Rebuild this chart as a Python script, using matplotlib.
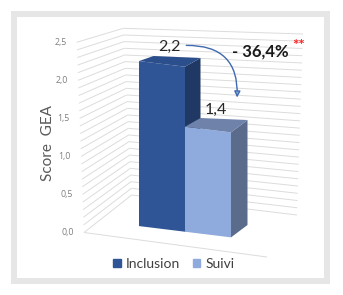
import matplotlib.pyplot as plt
import numpy as np
from matplotlib.transforms import Affine2D
from matplotlib.patches import Polygon, Patch, Rectangle, FancyArrowPatch
from matplotlib.collections import LineCollection

plt.rcParams['font.family'] = ['Lato', 'DejaVu Sans']

# data
series = ['Inclusion', 'Suivi']
values = [2.2, 1.4]
value_labels = ['2,2', '1,4']
change_label = '- 36,4%'
signif = '**'
ticks = [0.0, 0.5, 1.0, 1.5, 2.0, 2.5]
tick_labels = ['0,0', '0,5', '1,0', '1,5', '2,0', '2,5']
ylabel = 'Score  GEA'

front_col = ['#2f5597', '#8faadc']
side_col = ['#203864', '#5b6b8c']
top_col = ['#2b4e8c', '#6e82aa']

W, H = 343, 295
fig = plt.figure(figsize=(W / 100, H / 100), dpi=100)
ax = fig.add_axes([0, 0, 1, 1])
ax.set_xlim(0, W)
ax.set_ylim(H, 0)
ax.set_autoscale_on(False)
ax.axis('off')

# outer grey frame
ax.add_patch(Rectangle((14, 14), W - 30, H - 28, fill=False, ec='#e6e6e6', lw=4.3, zorder=0))

# faux 3D walls: vertical edges (value -> pixel)
def edge(p0, p1, v):
    p0, p1 = np.array(p0), np.array(p1)
    return p0 + (p1 - p0) * (v / 2.5)

FL = ((84, 232.5), (76.7, 42.3))
BL = ((131.7, 195), (123.3, 28.3))
BR = ((297, 215), (303, 34))
FR0 = (267, 257)

grid = np.arange(0, 2.51, 0.1)
segs = []
for v in grid:
    segs.append([edge(*FL, v), edge(*BL, v)])
    segs.append([edge(*BL, v), edge(*BR, v)])
segs.append([edge(*FL, 0), FR0])
ax.add_collection(LineCollection(segs, colors='#dcdcdc', lw=0.7, zorder=1))

for t, lab in zip(ticks, tick_labels):
    x, y = edge(*FL, t)
    ax.text(x - 10, y, lab, ha='right', va='center', fontsize=6.3, color='#7f7f7f',
            family=['Open Sans', 'DejaVu Sans'])

ax.text(48, 143, ylabel, rotation=90, ha='center', va='center', fontsize=11, color='#595959')

# bar planes (category index, value) -> canvas
A_front = Affine2D.from_values(46, 5.65, 0, -75, 162, 228.9)
A_back = Affine2D.from_values(47, 2.0, 0, -75, 177, 222)

x = np.arange(len(values))
tops = []
for i, v in enumerate(values):
    ax.bar(x[i], v, width=1.0, color=front_col[i], transform=A_front + ax.transData, zorder=2 + i)
    side = np.vstack([A_front.transform([(x[i] + .5, 0), (x[i] + .5, v)]),
                      A_back.transform([(x[i] + .5, v), (x[i] + .5, 0)])])
    top = np.vstack([A_front.transform([(x[i] - .5, v), (x[i] + .5, v)]),
                     A_back.transform([(x[i] + .5, v), (x[i] - .5, v)])])
    ax.add_patch(Polygon(side, closed=True, color=side_col[i], lw=0, zorder=2 + i))
    ax.add_patch(Polygon(top, closed=True, color=top_col[i], lw=0, zorder=2 + i))
    c = (A_front.transform((x[i], v)) + A_back.transform((x[i], v))) / 2
    tops.append(c)
    ax.annotate(value_labels[i], c, xytext=(0, 10), textcoords='offset points',
                ha='center', va='center', fontsize=11.5, color='#262626', zorder=5)

# curved arrow between the labels
p0 = tops[0] + np.array([14, -15])
p1 = tops[1] + np.array([21, -24])
ax.add_patch(FancyArrowPatch(p0, p1, connectionstyle='arc3,rad=-0.55', arrowstyle='-|>',
                             mutation_scale=9, lw=1, color='#3f69b0', fc='#8faadc', zorder=6))
ax.text(260, 52, change_label, ha='center', va='center', fontsize=12, fontweight='bold', color='#1a1a1a')
ax.text(299, 46, signif, ha='center', va='center', fontsize=11, fontweight='bold', color='#ff2020')

handles = [Patch(color=front_col[i], label=series[i]) for i in range(len(series))]
ax.legend(handles=handles, loc='center', bbox_to_anchor=(174 / W, 1 - 264 / H), ncol=2,
          frameon=False, fontsize=10, handlelength=0.55, handleheight=0.55,
          handletextpad=0.4, columnspacing=0.9, labelcolor='#404040', borderaxespad=0)

fig.savefig('out.png', dpi=100)
